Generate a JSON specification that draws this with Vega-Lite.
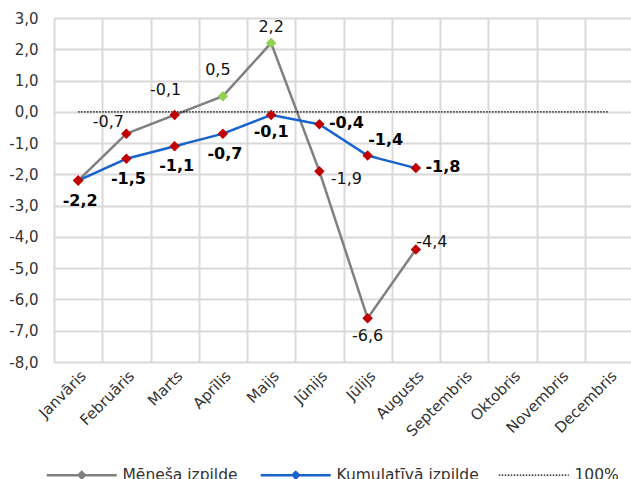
{
  "$schema": "https://vega.github.io/schema/vega-lite/v6.json",
  "width": 579,
  "height": 344,
  "autosize": {"type": "none"},
  "padding": {"left": 54, "top": 18, "right": 0, "bottom": 117},
  "background": "white",
  "config": {
    "locale": {"number": {"decimal": ",", "thousands": " ", "grouping": [3], "currency": ["", ""], "minus": "-"}},
    "view": {"stroke": null},
    "font": "DejaVu Sans"
  },
  "data": {
    "values": [
      {"month": "Janvāris", "series": "Mēneša izpilde", "value": -2.2},
      {"month": "Februāris", "series": "Mēneša izpilde", "value": -0.7},
      {"month": "Marts", "series": "Mēneša izpilde", "value": -0.1},
      {"month": "Aprīlis", "series": "Mēneša izpilde", "value": 0.5},
      {"month": "Maijs", "series": "Mēneša izpilde", "value": 2.2},
      {"month": "Jūnijs", "series": "Mēneša izpilde", "value": -1.9},
      {"month": "Jūlijs", "series": "Mēneša izpilde", "value": -6.6},
      {"month": "Augusts", "series": "Mēneša izpilde", "value": -4.4},
      {"month": "Janvāris", "series": "Kumulatīvā izpilde", "value": -2.2},
      {"month": "Februāris", "series": "Kumulatīvā izpilde", "value": -1.5},
      {"month": "Marts", "series": "Kumulatīvā izpilde", "value": -1.1},
      {"month": "Aprīlis", "series": "Kumulatīvā izpilde", "value": -0.7},
      {"month": "Maijs", "series": "Kumulatīvā izpilde", "value": -0.1},
      {"month": "Jūnijs", "series": "Kumulatīvā izpilde", "value": -0.4},
      {"month": "Jūlijs", "series": "Kumulatīvā izpilde", "value": -1.4},
      {"month": "Augusts", "series": "Kumulatīvā izpilde", "value": -1.8},
      {"month": "Janvāris", "series": "100%", "value": 0},
      {"month": "Februāris", "series": "100%", "value": 0},
      {"month": "Marts", "series": "100%", "value": 0},
      {"month": "Aprīlis", "series": "100%", "value": 0},
      {"month": "Maijs", "series": "100%", "value": 0},
      {"month": "Jūnijs", "series": "100%", "value": 0},
      {"month": "Jūlijs", "series": "100%", "value": 0},
      {"month": "Augusts", "series": "100%", "value": 0},
      {"month": "Septembris", "series": "100%", "value": 0},
      {"month": "Oktobris", "series": "100%", "value": 0},
      {"month": "Novembris", "series": "100%", "value": 0},
      {"month": "Decembris", "series": "100%", "value": 0}
    ]
  },
  "encoding": {
    "x": {
      "field": "month", "type": "nominal",
      "scale": {"domain": ["Janvāris","Februāris","Marts","Aprīlis","Maijs","Jūnijs","Jūlijs","Augusts","Septembris","Oktobris","Novembris","Decembris"], "paddingInner": 0, "paddingOuter": 0},
      "axis": {"title": null, "tickBand": "extent", "grid": true, "gridColor": "#D9D9D9", "gridWidth": 2, "ticks": false, "domain": false, "labelAngle": -45, "labelFont": "DejaVu Sans", "labelFontSize": 15, "labelColor": "#333333", "labelPadding": 6}
    },
    "y": {
      "field": "value", "type": "quantitative",
      "scale": {"domain": [-8, 3], "nice": false, "zero": false},
      "axis": {"title": null, "values": [-8,-7,-6,-5,-4,-3,-2,-1,0,1,2,3], "format": ".1f", "grid": true, "gridColor": "#D9D9D9", "gridWidth": 2, "ticks": false, "domain": false, "labelFont": "DejaVu Sans", "labelFontSize": 15, "labelColor": "#333333", "labelPadding": 16}
    }
  },
  "layer": [
    {
      "mark": {"type": "line", "clip": false},
      "encoding": {
        "color": {
          "field": "series", "type": "nominal",
          "scale": {"domain": ["Mēneša izpilde", "Kumulatīvā izpilde", "100%"], "range": ["#808080", "#1762CC", "#000000"]},
          "legend": {
            "title": null, "orient": "none", "legendX": 20, "legendY": 449, "direction": "horizontal", "columns": 3,
            "columnPadding": 17, "labelFont": "DejaVu Sans", "labelFontSize": 15.5, "labelColor": "#333333", "labelOffset": 7,
            "symbolSize": 4900, "symbolStrokeWidth": 2.5,
            "encode": {
              "labels": {"update": {"dx": {"value": 26}}},
              "symbols": {
                "update": {
                  "size": {"value": 4900},
                  "shape": {"signal": "datum.value === '100%' ? 'M-1,0L1,0' : 'M-1,0L1,0M-0.09,0L0,-0.09L0.09,0L0,0.09Z'"},
                  "fill": {"signal": "datum.value === '100%' ? 'transparent' : '#C00000'"},
                  "strokeWidth": {"signal": "datum.value === '100%' ? 1.2 : 2.5"},
                  "strokeDash": {"signal": "datum.value === '100%' ? [1.5, 1.5] : [1, 0]"}
                }
              }
            }
          }
        },
        "strokeDash": {"condition": {"test": "datum.series === '100%'", "value": [1.5, 1.5]}, "value": [1, 0]},
        "strokeWidth": {"condition": {"test": "datum.series === '100%'", "value": 1.2}, "value": 2.5}
      }
    },
    {
      "transform": [{"filter": "datum.series !== '100%'"}],
      "mark": {"type": "point", "shape": "diamond", "filled": true, "size": 110, "opacity": 1, "strokeWidth": 0},
      "encoding": {
        "fill": {"condition": {"test": "datum.value > 0", "value": "#92D050"}, "value": "#C00000"}
      }
    },
    {
      "transform": [{"filter": "datum.series === 'Mēneša izpilde' && datum.month === 'Februāris'"}],
      "mark": {"type": "text", "dx": -18, "dy": -12, "fontSize": 16, "color": "#111111"},
      "encoding": {"text": {"field": "value", "type": "quantitative", "format": ".1f"}}
    },
    {
      "transform": [{"filter": "datum.series === 'Mēneša izpilde' && datum.month === 'Marts'"}],
      "mark": {"type": "text", "dx": -9, "dy": -25, "fontSize": 16, "color": "#111111"},
      "encoding": {"text": {"field": "value", "type": "quantitative", "format": ".1f"}}
    },
    {
      "transform": [{"filter": "datum.series === 'Mēneša izpilde' && datum.month === 'Aprīlis'"}],
      "mark": {"type": "text", "dx": -5, "dy": -26, "fontSize": 16, "color": "#111111"},
      "encoding": {"text": {"field": "value", "type": "quantitative", "format": ".1f"}}
    },
    {
      "transform": [{"filter": "datum.series === 'Mēneša izpilde' && datum.month === 'Maijs'"}],
      "mark": {"type": "text", "dx": 0, "dy": -16, "fontSize": 16, "color": "#111111"},
      "encoding": {"text": {"field": "value", "type": "quantitative", "format": ".1f"}}
    },
    {
      "transform": [{"filter": "datum.series === 'Mēneša izpilde' && datum.month === 'Jūnijs'"}],
      "mark": {"type": "text", "dx": 27, "dy": 8, "fontSize": 16, "color": "#111111"},
      "encoding": {"text": {"field": "value", "type": "quantitative", "format": ".1f"}}
    },
    {
      "transform": [{"filter": "datum.series === 'Mēneša izpilde' && datum.month === 'Jūlijs'"}],
      "mark": {"type": "text", "dx": 0, "dy": 18, "fontSize": 16, "color": "#111111"},
      "encoding": {"text": {"field": "value", "type": "quantitative", "format": ".1f"}}
    },
    {
      "transform": [{"filter": "datum.series === 'Mēneša izpilde' && datum.month === 'Augusts'"}],
      "mark": {"type": "text", "dx": 16, "dy": -7, "fontSize": 16, "color": "#111111"},
      "encoding": {"text": {"field": "value", "type": "quantitative", "format": ".1f"}}
    },
    {
      "transform": [{"filter": "datum.series === 'Kumulatīvā izpilde' && indexof(['Janvāris','Februāris','Marts','Aprīlis'], datum.month) >= 0"}],
      "mark": {"type": "text", "dx": 2, "dy": 20, "fontSize": 16, "fontWeight": "bold", "color": "#000000"},
      "encoding": {"text": {"field": "value", "type": "quantitative", "format": ".1f"}}
    },
    {
      "transform": [{"filter": "datum.series === 'Kumulatīvā izpilde' && datum.month === 'Maijs'"}],
      "mark": {"type": "text", "dx": 0, "dy": 17, "fontSize": 16, "fontWeight": "bold", "color": "#000000"},
      "encoding": {"text": {"field": "value", "type": "quantitative", "format": ".1f"}}
    },
    {
      "transform": [{"filter": "datum.series === 'Kumulatīvā izpilde' && indexof(['Jūnijs','Augusts'], datum.month) >= 0"}],
      "mark": {"type": "text", "dx": 27, "dy": -1, "fontSize": 16, "fontWeight": "bold", "color": "#000000"},
      "encoding": {"text": {"field": "value", "type": "quantitative", "format": ".1f"}}
    },
    {
      "transform": [{"filter": "datum.series === 'Kumulatīvā izpilde' && datum.month === 'Jūlijs'"}],
      "mark": {"type": "text", "dx": 18, "dy": -16, "fontSize": 16, "fontWeight": "bold", "color": "#000000"},
      "encoding": {"text": {"field": "value", "type": "quantitative", "format": ".1f"}}
    }
  ]
}
